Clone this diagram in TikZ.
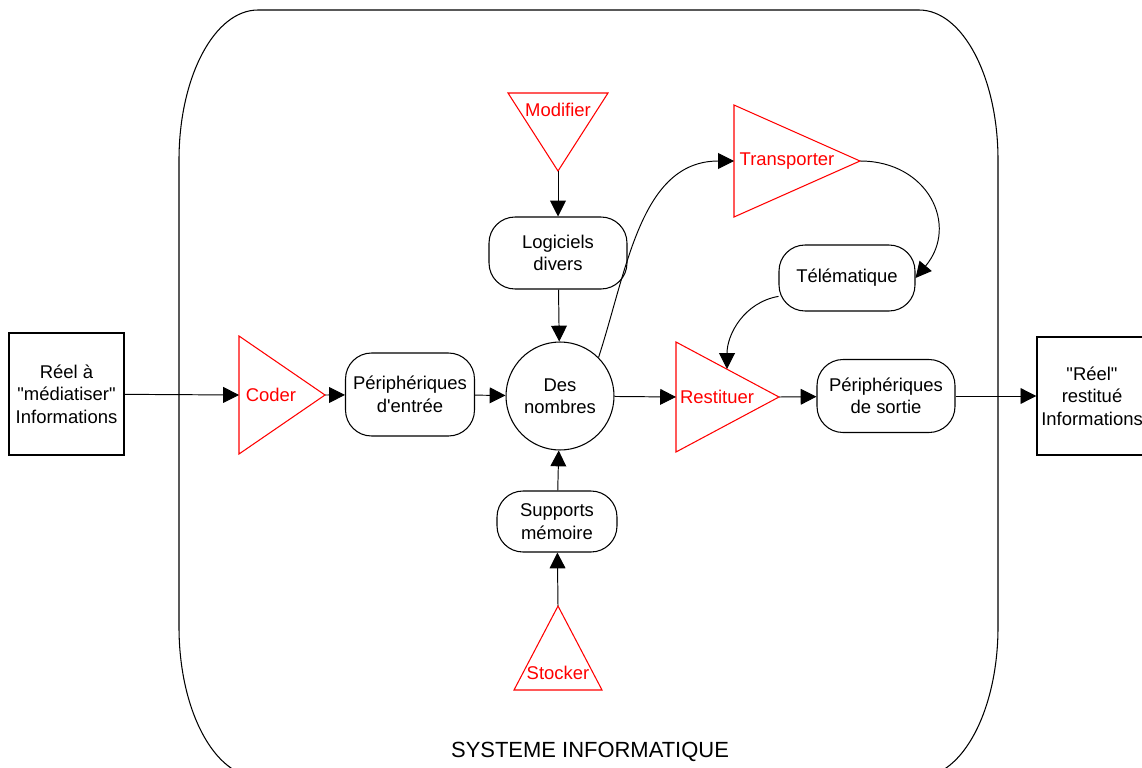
\documentclass[tikz,border=0pt]{standalone}
\usepackage{fontspec}
\setmainfont{Liberation Sans}[Ligatures=TeXOff]
\usepackage{tikz}
\usetikzlibrary{arrows.meta}
\tikzset{
every node/.style={font=\fontsize{10.5}{12.8}\selectfont, align=center}, % text like the original
boite/.style={draw, line width=0.8pt, inner sep=2pt}, % the two outside boxes
bulle/.style={draw, line width=0.6pt, rounded corners=0.52cm, inner sep=2pt}, % devices
action/.style={text=red}, % labels of the red triangles
trig/.style={draw=red, line width=0.6pt}, % the red triangles
lien/.style={-{Triangle[length=9pt,width=9pt]}, line width=0.55pt}, % the links
}

\begin{document}
\begin{tikzpicture}[x=0.02cm, y=-0.02cm]
	\useasboundingbox (0,0) rectangle (1142,767);

	% frame of the system
	\draw[line width=0.6pt] (179,160) arc[start angle=180, end angle=270, x radius=79, y radius=150]
		-- (919,10) arc[start angle=270, end angle=360, x radius=79, y radius=150]
		-- (998,627) arc[start angle=0, end angle=90, x radius=79, y radius=150]
		-- (258,777) arc[start angle=90, end angle=180, x radius=79, y radius=150] -- cycle;
	\node (titre) at (590,752) {\fontsize{12.5}{14}\selectfont SYSTEME INFORMATIQUE};

	\node[boite, minimum width=2.3cm, minimum height=2.44cm] (reel) at (66.5,394) {Réel à\\"médiatiser"\\Informations};
	\node[boite, minimum width=2.2cm, minimum height=2.36cm] (restitue) at (1092,396) {"Réel"\\restitué\\Informations};

	\node[bulle, minimum width=2.58cm, minimum height=1.66cm] (entree) at (410,394.5) {Périphériques\\d'entrée};
	\node[draw, circle, line width=0.6pt, minimum size=2.16cm, inner sep=0pt] (nombres) at (560,396) {Des\\nombres};
	\node[bulle, minimum width=2.76cm, minimum height=1.44cm] (logiciels) at (558,253) {Logiciels\\divers};
	\node[bulle, minimum width=2.72cm, minimum height=1.32cm] (telematique) at (847,278) {Télématique};
	\node[bulle, minimum width=2.76cm, minimum height=1.46cm] (sortie) at (886,396) {Périphériques\\de sortie};
	\node[bulle, minimum width=2.4cm, minimum height=1.22cm] (supports) at (557,521.5) {Supports\\mémoire};

	% red triangles
	\draw[trig] (239,336) -- (325,395) coordinate (coder-tip) -- (239,454) -- cycle;
	\coordinate (coder-in) at (239,395);
	\node[action] (coder) at (271,395) {Coder};
	\draw[trig] (508,93) -- (608,93) -- (558,171) coordinate (modifier-tip) -- cycle;
	\node[action] (modifier) at (558,110) {Modifier};
	\draw[trig] (734,105) -- (860,161) coordinate (transporter-tip) -- (734,217) -- cycle;
	\coordinate (transporter-in) at (734,161);
	\node[action] (transporter) at (787,161) {Transporter};
	\draw[trig] (676,342) -- (779,397) coordinate (restituer-tip) -- (676,452) -- cycle;
	\coordinate (restituer-in) at (676,397);
	\coordinate (restituer-top) at (727,369);
	\node[action] (restituer) at (717,397) {Restituer};
	\draw[trig] (514,690) -- (558,606) coordinate (stocker-tip) -- (602,690) -- cycle;
	\node[action] (stocker) at (558,673) {Stocker};

	\draw[lien] (reel) -- (coder-in);
	\draw[lien] (coder-tip) -- (entree);
	\draw[lien] (entree) -- (nombres);
	\draw[lien] (nombres) -- (restituer-in);
	\draw[lien] (restituer-tip) -- (sortie);
	\draw[lien] (sortie) -- (restitue);
	\draw[lien] (modifier-tip) -- (logiciels);
	\draw[lien] (logiciels) -- (nombres);
	\draw[lien] (supports) -- (nombres);
	\draw[lien] (stocker-tip) -- (supports);
	\draw[lien] (nombres.45) to[out=72, in=180] (transporter-in);
	\draw[lien] (transporter-tip) to[out=0, in=50, looseness=1.35] (telematique.east);
	\draw[lien] (telematique.195) to[out=190, in=90] (restituer-top);
\end{tikzpicture}
\end{document}
